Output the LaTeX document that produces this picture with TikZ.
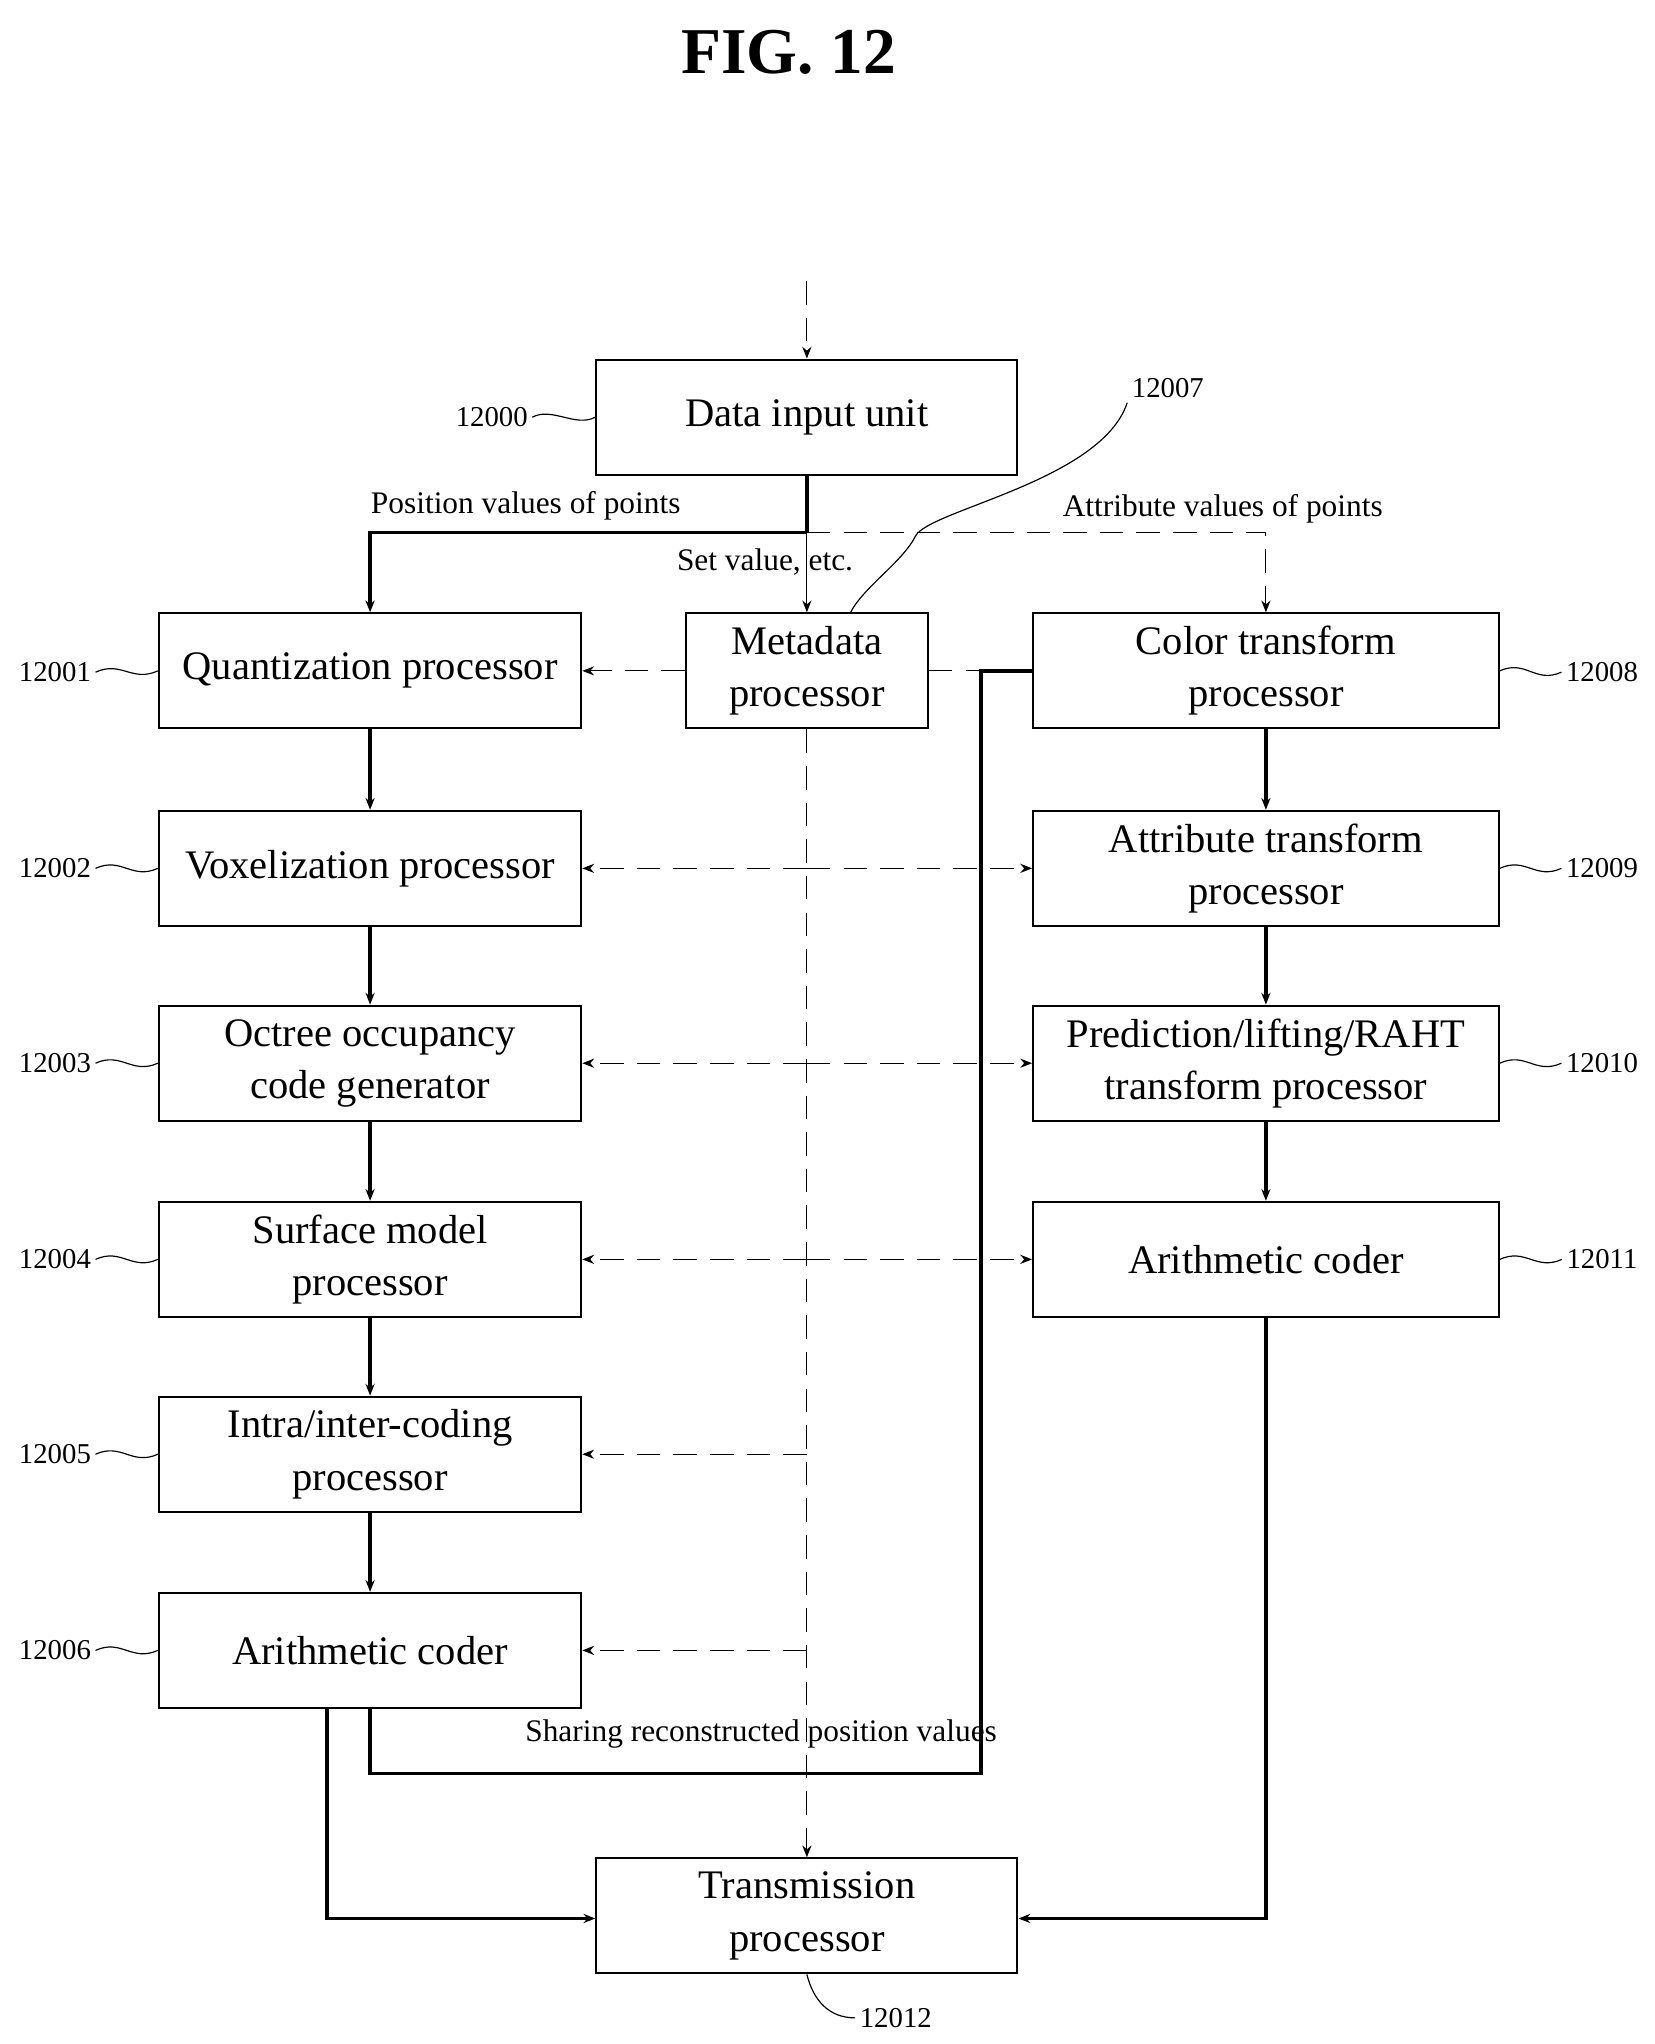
\documentclass[tikz,border=0pt]{standalone}
\usepackage{fontspec}
\setmainfont{Liberation Serif}
\usetikzlibrary{arrows.meta}
\begin{document}
\begin{tikzpicture}[x=1pt,y=-1pt,
  box/.style={draw,line width=1.6pt,align=center,inner sep=0pt,font=\fontsize{31}{40}\selectfont},
  thick/.style={line width=2.6pt},
  thin/.style={line width=0.9pt},
  dsh/.style={line width=0.9pt,dash pattern=on 18pt off 10pt},
  arr/.style={-{Stealth[length=9pt,width=7pt]}},
  lab/.style={font=\fontsize{22}{24}\selectfont},
  txt/.style={font=\fontsize{24}{26}\selectfont}]
\useasboundingbox (0,0) rectangle (1265,1563);
\node[font=\fontsize{50}{56}\selectfont\bfseries] (title) at (603,40) {FIG. 12};
% boxes
\def\B#1#2#3#4#5#6{\node[box,minimum width=#3pt,minimum height=88pt] (#1) at (#4,#5) {#6};}
\B{din}{}{322}{617}{319}{Data input unit}
\B{q}{}{323}{283}{513}{Quantization processor}
\B{v}{}{323}{283}{664}{Voxelization processor}
\B{o}{}{323}{283}{813}{Octree occupancy\\code generator}
\B{s}{}{323}{283}{963}{Surface model\\processor}
\B{ic}{}{323}{283}{1112}{Intra/inter-coding\\processor}
\B{ac}{}{323}{283}{1262}{Arithmetic coder}
\B{m}{}{185}{617}{513}{Metadata\\processor}
\B{ct}{}{356}{968}{513}{Color transform\\processor}
\B{at}{}{356}{968}{664}{Attribute transform\\processor}
\B{pl}{}{356}{968}{813}{Prediction/lifting/RAHT\\transform processor}
\B{ac2}{}{356}{968}{963}{Arithmetic coder}
\B{tp}{}{322}{617}{1465}{Transmission\\processor}
% top
\coordinate (top) at (617,215);
\draw[dsh,arr] (top) -- (din.north);
\coordinate (j) at (617,407);
\draw[thick] (din.south) -- (j);
\draw[thick,arr] (j) -| (q.north);
\draw[dsh,arr] (j) -| (ct.north);
\draw[thin,arr] (j) -- (m.north);
\node[txt] (pv) at (402,387) {Position values of points};
\node[txt] (av) at (935,389) {Attribute values of points};
\node[txt] (sv) at (585,430) {Set value, etc.};
% metadata distribution
\draw[dsh,arr] (m.west) -- (q.east);
\coordinate (mr) at (750,513);
\draw[dsh] (m.east) -- (mr);
\draw[dsh,arr] (m.south) -- (tp.north);
\foreach \a/\b/\y in {v/at/664,o/pl/813,s/ac2/963}{
  \coordinate (c\a) at (617,\y);
  \draw[dsh,arr] (c\a) -- (\a.east);
  \draw[dsh,arr] (c\a) -- (\b.west);}
\foreach \a/\y in {ic/1112,ac/1262}{
  \coordinate (c\a) at (617,\y);
  \draw[dsh,arr] (c\a) -- (\a.east);}
% vertical chains
\draw[thick,arr] (q) -- (v);
\draw[thick,arr] (v) -- (o);
\draw[thick,arr] (o) -- (s);
\draw[thick,arr] (s) -- (ic);
\draw[thick,arr] (ic) -- (ac);
\draw[thick,arr] (ct) -- (at);
\draw[thick,arr] (at) -- (pl);
\draw[thick,arr] (pl) -- (ac2);
% bottom
\coordinate (s1) at (283,1356);
\coordinate (s2) at (750,1356);
\coordinate (s3) at (750,513);
\draw[thick] (ac.south) -- (s1) -- (s2) -- (s3) -- (ct.west);
\node[txt] (sr) at (582,1326) {Sharing reconstructed position values};
\coordinate (b1) at (250,1306);
\coordinate (b2) at (250,1467);
\draw[thick,arr] (b1) -- (b2) -- (tp.west|-b2);
\coordinate (b3) at (968,1467);
\draw[thick,arr] (ac2.south) -- (b3) -- (tp.east|-b3);
% labels
\newcommand\wv[2]{\draw[thin] (#1) .. controls +(12,-9) and +(-12,9) .. ($(#1)!0.5!(#2)$) .. controls +(12,-9) and +(-12,9) .. (#2);}
\node[lab] (l0) at (376,319) {12000};
\node[lab] (l1) at (42,514) {12001};
\node[lab] (l2) at (42,664) {12002};
\node[lab] (l3) at (42,813) {12003};
\node[lab] (l4) at (42,963) {12004};
\node[lab] (l5) at (42,1112) {12005};
\node[lab] (l6) at (42,1262) {12006};
\node[lab] (l8) at (1225,514) {12008};
\node[lab] (l9) at (1225,664) {12009};
\node[lab] (l10) at (1225,813) {12010};
\node[lab] (l11) at (1225,963) {12011};
\node[lab] (l7) at (893,297) {12007};
\node[lab] (l12) at (685,1543) {12012};
\draw[thin] (l0.east) .. controls +(15,-8) and +(-15,8) .. (din.west);
\foreach \n/\b in {l1/q,l2/v,l3/o,l4/s,l5/ic,l6/ac}
  \draw[thin] (\n.east) .. controls +(20,-9) and +(-20,9) .. (\b.west);
\foreach \n/\b in {l8/ct,l9/at,l10/pl,l11/ac2}
  \draw[thin] (\b.east) .. controls +(20,-9) and +(-20,9) .. (\n.west);
\draw[thin] (l7.south west) .. controls +(-20,60) and +(10,-20) .. (700,410) .. controls +(-10,20) and +(10,-20) .. (650,469);
\draw[thin] (tp.south) .. controls +(5,20) and +(-20,0) .. (l12.west);
\end{tikzpicture}
\end{document}
